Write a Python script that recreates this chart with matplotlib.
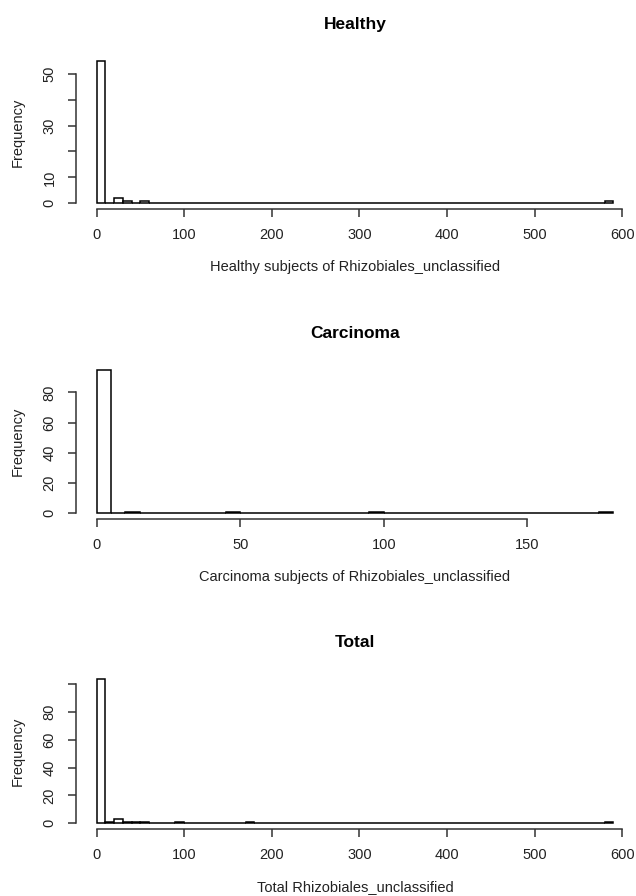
import numpy as np
import matplotlib
matplotlib.use("Agg")
import matplotlib.pyplot as plt

plt.rcParams['font.family'] = ['Liberation Sans', 'DejaVu Sans']

# =========================
# DATA (histogram bin counts)
# =========================
titles = ["Healthy", "Carcinoma", "Total"]
xlabels = ["Healthy subjects of Rhizobiales_unclassified",
           "Carcinoma subjects of Rhizobiales_unclassified",
           "Total Rhizobiales_unclassified"]

# bin width and last break for each panel
bin_width = [10, 5, 10]
bin_max = [590, 180, 590]

# non-empty bins: left edge -> count
healthy_starts = [0, 20, 30, 50, 580]
healthy_counts = [55, 2, 1, 1, 1]

carcinoma_starts = [0, 10, 45, 95, 175]
carcinoma_counts = [95, 1, 1, 1, 1]

total_starts = [0, 10, 20, 30, 40, 50, 90, 170, 580]
total_counts = [104, 1, 3, 1, 1, 1, 1, 1, 1]

# axis ticks
xticks = [[0, 100, 200, 300, 400, 500, 600],
          [0, 50, 100, 150],
          [0, 100, 200, 300, 400, 500, 600]]
yticks = [[0, 10, 20, 30, 40, 50],
          [0, 20, 40, 60, 80],
          [0, 20, 40, 60, 80, 100]]
ytick_labels = [["0", "10", "", "30", "", "50"],
                ["0", "20", "40", "60", "80"],
                ["0", "20", "40", "60", "80", ""]]

starts = [healthy_starts, carcinoma_starts, total_starts]
counts = [healthy_counts, carcinoma_counts, total_counts]

# =========================
# FIGURE
# =========================
W, H = 636, 896
fig = plt.figure(figsize=(W/100, H/100), dpi=100)

# plot regions in pixels (left, top, right, bottom)
regions = [(76, 55, 634, 209),
           (76, 364, 634, 519),
           (76, 673, 634, 829)]

for i in range(3):
    l, t, r, b = regions[i]
    ax = fig.add_axes([l/W, 1 - b/H, (r-l)/W, (b-t)/H])

    edges = np.arange(0, bin_max[i] + bin_width[i], bin_width[i])
    full = np.zeros(len(edges) - 1)
    for s, c in zip(starts[i], counts[i]):
        full[int(s // bin_width[i])] = c

    ax.bar(edges[:-1], full, width=bin_width[i], align='edge',
           facecolor='white', edgecolor='black', linewidth=1.1)

    # R style 4% padding
    xr = edges[-1] - edges[0]
    ax.set_xlim(edges[0] - 0.04*xr, edges[-1] + 0.04*xr)
    ymax = full.max()
    ax.set_ylim(-0.04*ymax, 1.04*ymax)

    for sp in ['top', 'right']:
        ax.spines[sp].set_visible(False)
    ax.spines['left'].set_bounds(yticks[i][0], yticks[i][-1])
    ax.spines['bottom'].set_bounds(xticks[i][0], xticks[i][-1])
    for sp in ['left', 'bottom']:
        ax.spines[sp].set_linewidth(1.1)
        ax.spines[sp].set_color('#333333')

    ax.set_xticks(xticks[i])
    ax.set_yticks(yticks[i])
    ax.set_yticklabels(ytick_labels[i], rotation=90, va='center')
    ax.tick_params(axis='both', length=6, width=1.1, color='#333333',
                   labelsize=10.5, pad=8, labelcolor='#222222')

    ax.set_title(titles[i], fontsize=12.5, fontweight='bold', pad=19)
    ax.set_xlabel(xlabels[i], fontsize=10.5, labelpad=13, color='#222222')
    ax.set_ylabel("Frequency", fontsize=10.5, labelpad=13, color='#222222')

fig.savefig("out.png", dpi=100)
